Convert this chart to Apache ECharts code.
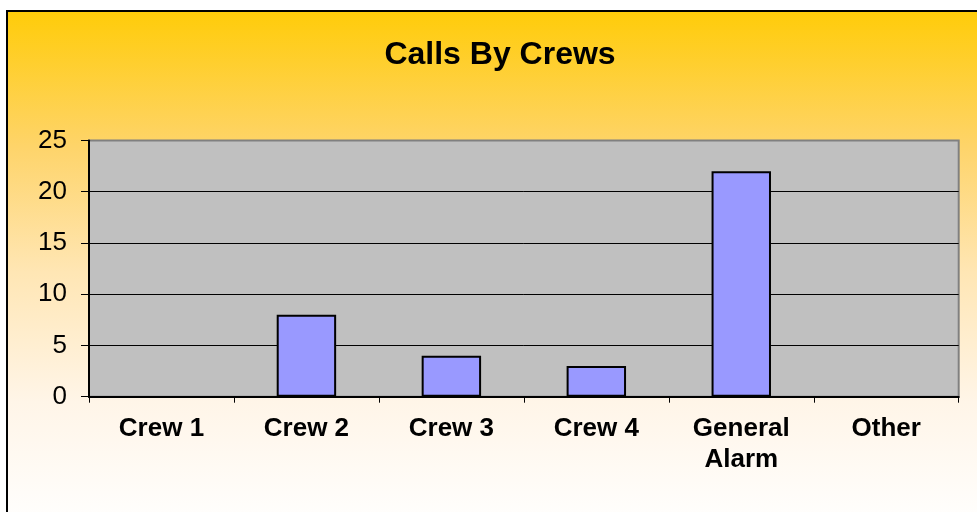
<!DOCTYPE html>
<html>
<head>
<meta charset="utf-8">
<title>Calls By Crews</title>
<script src="https://cdn.jsdelivr.net/npm/echarts@6/dist/echarts.min.js"></script>
<style>
  html, body { margin: 0; padding: 0; width: 977px; height: 512px; overflow: hidden; background: #fff; }
  .frame {
    position: absolute; left: 6px; top: 10px; width: 1100px; height: 600px;
    border: 2px solid #000;
    background: linear-gradient(#ffcc0a 0px, #fed46a 135px, #ffe6b4 260px, #fff5e8 390px, #ffffff 520px);
  }
  #chart { position: absolute; left: 0; top: 0; width: 1000px; height: 512px; }
</style>
</head>
<body>
<div class="frame"></div>
<div id="chart"></div>
<script>
const categories = ['Crew 1', 'Crew 2', 'Crew 3', 'Crew 4', 'General\nAlarm', 'Other']
const calls = [0, 8, 4, 3, 22, 0]
const yTicks = { min: 0, max: 25, interval: 5 }

const font = '"Liberation Sans", Arial, sans-serif'
const chart = echarts.init(document.getElementById('chart'), null, { renderer: 'canvas' })

// zero bars get no outline, like the original
const barData = calls.map(v => v === 0 ? { value: v, itemStyle: { borderWidth: 0 } } : v)

chart.setOption({
  animation: false,
  backgroundColor: 'transparent',
  title: {
    text: 'Calls By Crews',
    left: 'center',
    top: 34,
    textStyle: { fontFamily: font, fontSize: 32, fontWeight: 'bold', color: '#000' }
  },
  grid: {
    left: 89, top: 140.5, right: 41.3, bottom: 115.3,
    show: true,
    backgroundColor: '#c0c0c0',
    borderColor: '#808080',
    borderWidth: 2
  },
  xAxis: {
    type: 'category',
    data: categories,
    axisLine: { lineStyle: { color: '#000', width: 2 } },
    axisTick: { show: true, length: 6, lineStyle: { color: '#000', width: 1 } },
    axisLabel: {
      margin: 17,
      fontFamily: font, fontSize: 26, fontWeight: 'bold', color: '#000',
      lineHeight: 31, interval: 0
    },
    splitLine: { show: false }
  },
  yAxis: {
    type: 'value',
    min: yTicks.min, max: yTicks.max, interval: yTicks.interval,
    axisLine: { show: true, lineStyle: { color: '#000', width: 2 } },
    axisTick: { show: true, length: 8, lineStyle: { color: '#000', width: 1 } },
    axisLabel: { margin: 22, fontFamily: font, fontSize: 26, color: '#000' },
    splitLine: { show: true, showMinLine: false, showMaxLine: false, lineStyle: { color: '#000', width: 1 } }
  },
  series: [{
    type: 'bar',
    data: barData,
    barWidth: '41%',
    itemStyle: { color: '#9999ff', borderColor: '#000', borderWidth: 2 }
  }]
})
</script>
</body>
</html>
